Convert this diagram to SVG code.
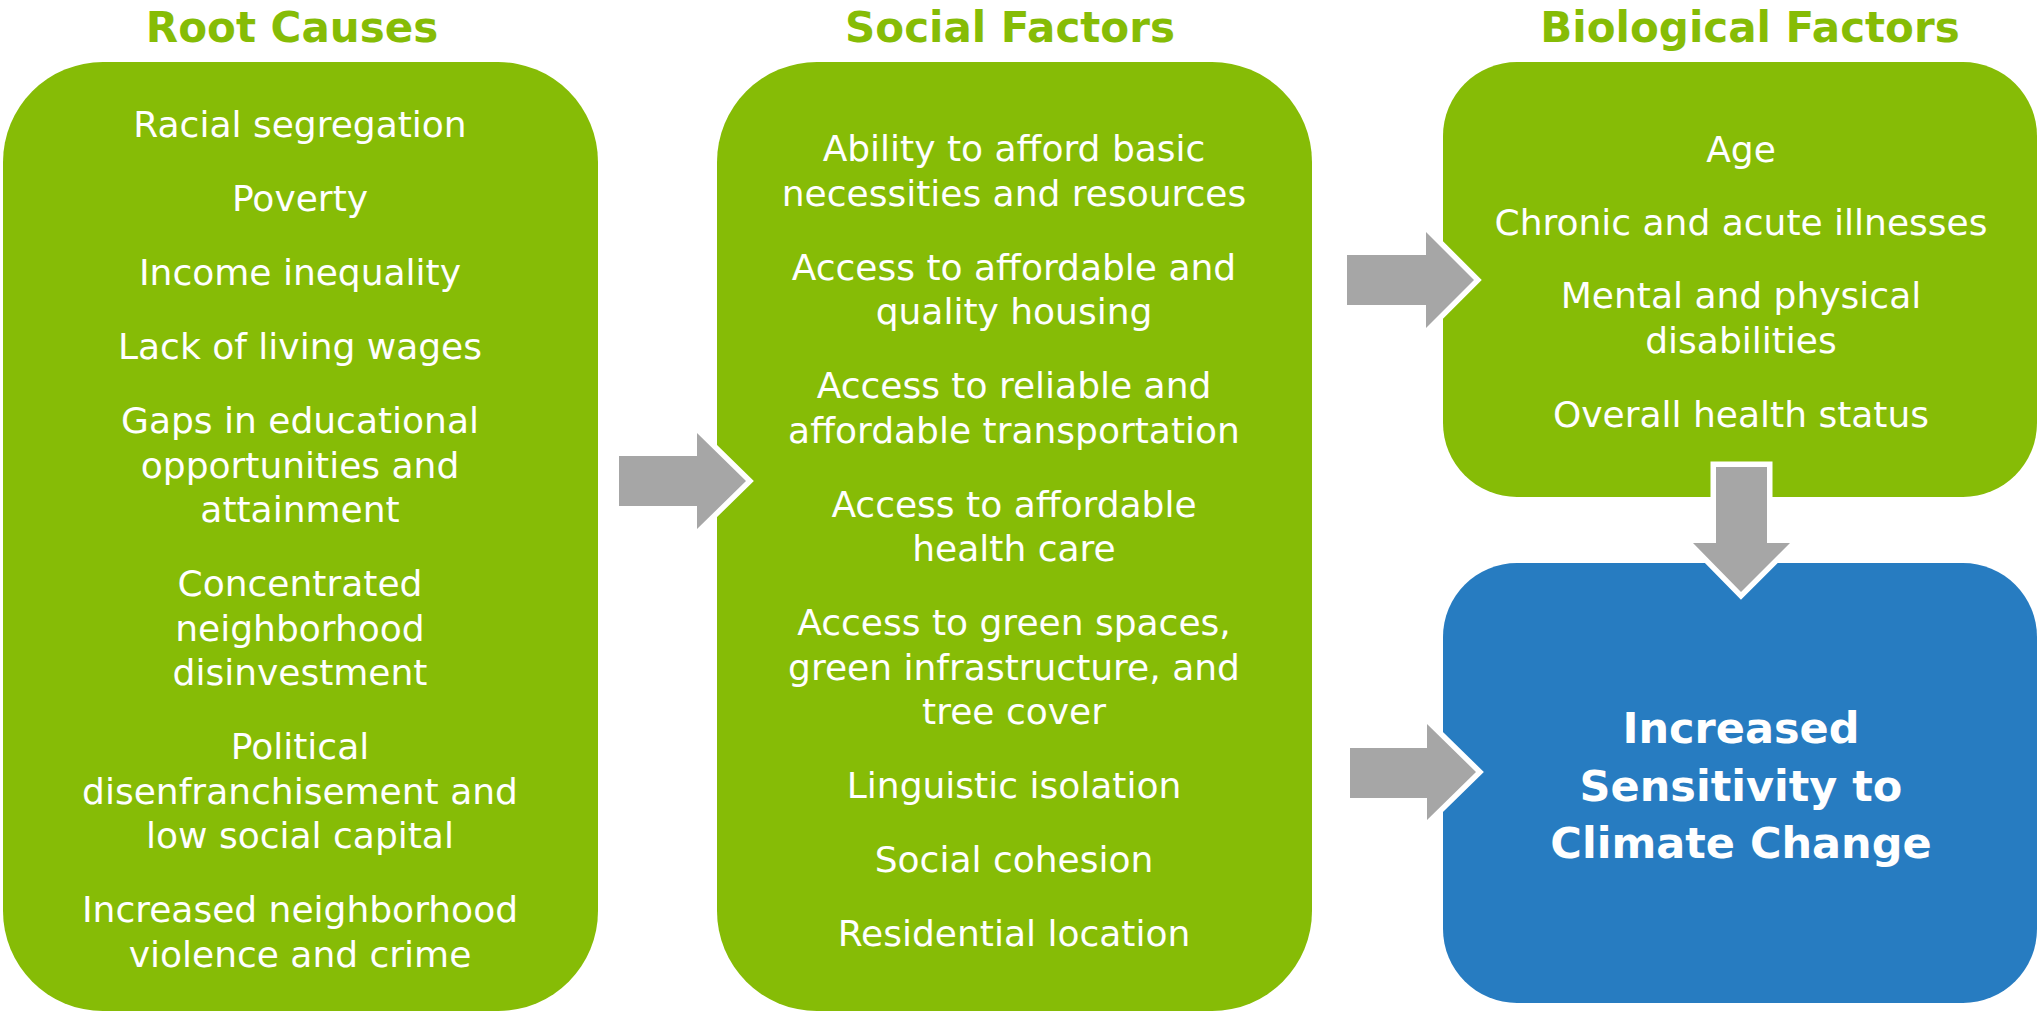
<svg xmlns="http://www.w3.org/2000/svg" width="2037" height="1012" viewBox="0 0 2037 1012">
<style>
.title{font-family:"DejaVu Sans",sans-serif;font-weight:bold;font-size:42px;fill:#86BC06;text-anchor:middle}
.item{font-family:"DejaVu Sans",sans-serif;font-size:36px;fill:#ffffff;text-anchor:middle}
.big{font-family:"DejaVu Sans",sans-serif;font-weight:bold;font-size:43px;fill:#ffffff;text-anchor:middle}
.green{fill:#86BC06}
.blue{fill:#277CC1}
.arrow{fill:#A6A6A6;stroke:#ffffff;stroke-width:11;stroke-linejoin:miter;paint-order:stroke}
</style>
<rect width="2037" height="1012" fill="#ffffff"/>
<g id="root-causes">
<text class="title" x="292" y="42">Root Causes</text>
<rect class="green" x="3" y="62" width="595" height="949" rx="100" ry="100"/>
<text class="item" x="300" y="137">Racial segregation</text>
<text class="item" x="300" y="211">Poverty</text>
<text class="item" x="300" y="285">Income inequality</text>
<text class="item" x="300" y="359">Lack of living wages</text>
<text class="item" x="300" y="433">Gaps in educational</text>
<text class="item" x="300" y="477.5">opportunities and</text>
<text class="item" x="300" y="522">attainment</text>
<text class="item" x="300" y="596">Concentrated</text>
<text class="item" x="300" y="640.5">neighborhood</text>
<text class="item" x="300" y="685">disinvestment</text>
<text class="item" x="300" y="759">Political</text>
<text class="item" x="300" y="803.5">disenfranchisement and</text>
<text class="item" x="300" y="848">low social capital</text>
<text class="item" x="300" y="922">Increased neighborhood</text>
<text class="item" x="300" y="966.5">violence and crime</text>
</g>
<g id="social-factors">
<text class="title" x="1010" y="42">Social Factors</text>
<rect class="green" x="717" y="62" width="595" height="949" rx="100" ry="100"/>
<text class="item" x="1014" y="161">Ability to afford basic</text>
<text class="item" x="1014" y="205.5">necessities and resources</text>
<text class="item" x="1014" y="279.5">Access to affordable and</text>
<text class="item" x="1014" y="324">quality housing</text>
<text class="item" x="1014" y="398">Access to reliable and</text>
<text class="item" x="1014" y="442.5">affordable transportation</text>
<text class="item" x="1014" y="516.5">Access to affordable</text>
<text class="item" x="1014" y="561">health care</text>
<text class="item" x="1014" y="635">Access to green spaces,</text>
<text class="item" x="1014" y="679.5">green infrastructure, and</text>
<text class="item" x="1014" y="724">tree cover</text>
<text class="item" x="1014" y="798">Linguistic isolation</text>
<text class="item" x="1014" y="872">Social cohesion</text>
<text class="item" x="1014" y="946">Residential location</text>
</g>
<g id="biological-factors">
<text class="title" x="1750" y="42">Biological Factors</text>
<rect class="green" x="1443" y="62" width="594" height="435" rx="74" ry="74"/>
<text class="item" x="1741" y="162">Age</text>
<text class="item" x="1741" y="235">Chronic and acute illnesses</text>
<text class="item" x="1741" y="308">Mental and physical</text>
<text class="item" x="1741" y="353">disabilities</text>
<text class="item" x="1741" y="427">Overall health status</text>
</g>
<g id="sensitivity">
<rect class="blue" x="1443" y="563" width="594" height="440" rx="74" ry="74"/>
<text class="big" x="1741" y="743">Increased</text>
<text class="big" x="1741" y="801">Sensitivity to</text>
<text class="big" x="1741" y="858">Climate Change</text>
</g>
<g id="connectors">
<polygon class="arrow" points="619,456 697,456 697,433 746,481 697,529 697,506 619,506"/>
<polygon class="arrow" points="1347,255 1426,255 1426,232 1474,280 1426,328 1426,305 1347,305"/>
<polygon class="arrow" points="1350,748 1427,748 1427,724 1476,772 1427,820 1427,798 1350,798"/>
<polygon class="arrow" points="1716,467 1767,467 1767,543 1790,543 1741,592 1693,543 1716,543"/>
</g>
</svg>
